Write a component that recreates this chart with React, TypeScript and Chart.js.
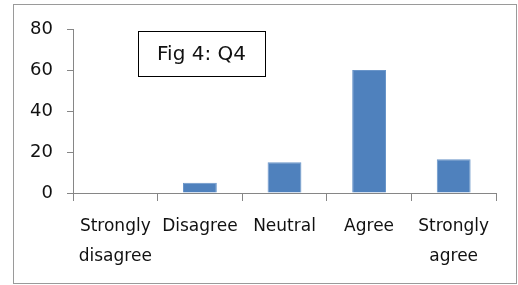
import React, { useEffect, useRef } from "react";
import { Chart, registerables } from "chart.js";

Chart.register(...registerables);

const categories: (string | string[])[] = [
  ["Strongly", "disagree"],
  "Disagree",
  "Neutral",
  "Agree",
  ["Strongly", "agree"],
];
const values: number[] = [0, 5, 15, 60, 16.5];
const yTicks: number[] = [0, 20, 40, 60, 80];
const titleText = "Fig 4: Q4";

const FONT = "'DejaVu Sans', sans-serif";

const titleBox = {
  id: "titleBox",
  afterDraw(chart: any) {
    const { ctx, chartArea } = chart;
    const x = chartArea.left + 65;
    const y = chartArea.top + 2;
    const w = 127;
    const h = 45;
    ctx.save();
    ctx.fillStyle = "#ffffff";
    ctx.fillRect(x, y, w, h);
    ctx.strokeStyle = "#000000";
    ctx.lineWidth = 1;
    ctx.strokeRect(x + 0.5, y + 0.5, w, h);
    ctx.fillStyle = "#111111";
    ctx.font = `20px ${FONT}`;
    ctx.textAlign = "center";
    ctx.textBaseline = "middle";
    ctx.fillText(titleText, x + w / 2, y + h / 2 + 1);
    ctx.restore();
  },
};

export default function App() {
  const ref = useRef<HTMLCanvasElement | null>(null);
  useEffect(() => {
    document.body.style.margin = "0";
    const chart = new Chart(ref.current!, {
      type: "bar",
      data: {
        labels: categories,
        datasets: [
          {
            data: values,
            backgroundColor: "#4F81BD",
            borderColor: "#6A95C9",
            borderWidth: 1,
            barPercentage: 0.4,
            categoryPercentage: 1,
          },
        ],
      },
      options: {
        animation: false,
        responsive: false,
        devicePixelRatio: 1,
        layout: { padding: { left: 0, right: 22, top: 29, bottom: 0 } },
        plugins: { legend: { display: false }, tooltip: { enabled: false }, title: { display: false } },
        scales: {
          x: {
            grid: {
              offset: true,
              drawOnChartArea: false,
              drawTicks: true,
              tickLength: 8,
              color: "#868686",
            },
            border: { color: "#868686", width: 1 },
            ticks: {
              color: "#111111",
              font: { family: FONT, size: 17, lineHeight: 1.75 },
              padding: 11,
              maxRotation: 0,
              autoSkip: false,
            },
            afterFit(scale: any) {
              scale.height = 92;
            },
          },
          y: {
            min: 0,
            max: 80,
            afterBuildTicks(scale: any) {
              scale.ticks = yTicks.map((v) => ({ value: v }));
            },
            grid: {
              drawOnChartArea: false,
              drawTicks: true,
              tickLength: 6,
              color: "#868686",
            },
            border: { color: "#868686", width: 1 },
            ticks: {
              color: "#111111",
              font: { family: FONT, size: 18 },
              padding: 14,
            },
            afterFit(scale: any) {
              scale.width = 73;
            },
          },
        },
      },
      plugins: [titleBox],
    });
    return () => chart.destroy();
  }, []);
  return (
    <div style={{ position: "relative", width: 518, height: 285 }}>
      <canvas ref={ref} width={518} height={285} style={{ position: "absolute", left: 0, top: 0 }} />
      <div
        style={{
          position: "absolute",
          left: 13,
          top: 4,
          width: 502,
          height: 278,
          border: "1px solid #9a9a9a",
          pointerEvents: "none",
        }}
      />
    </div>
  );
}
